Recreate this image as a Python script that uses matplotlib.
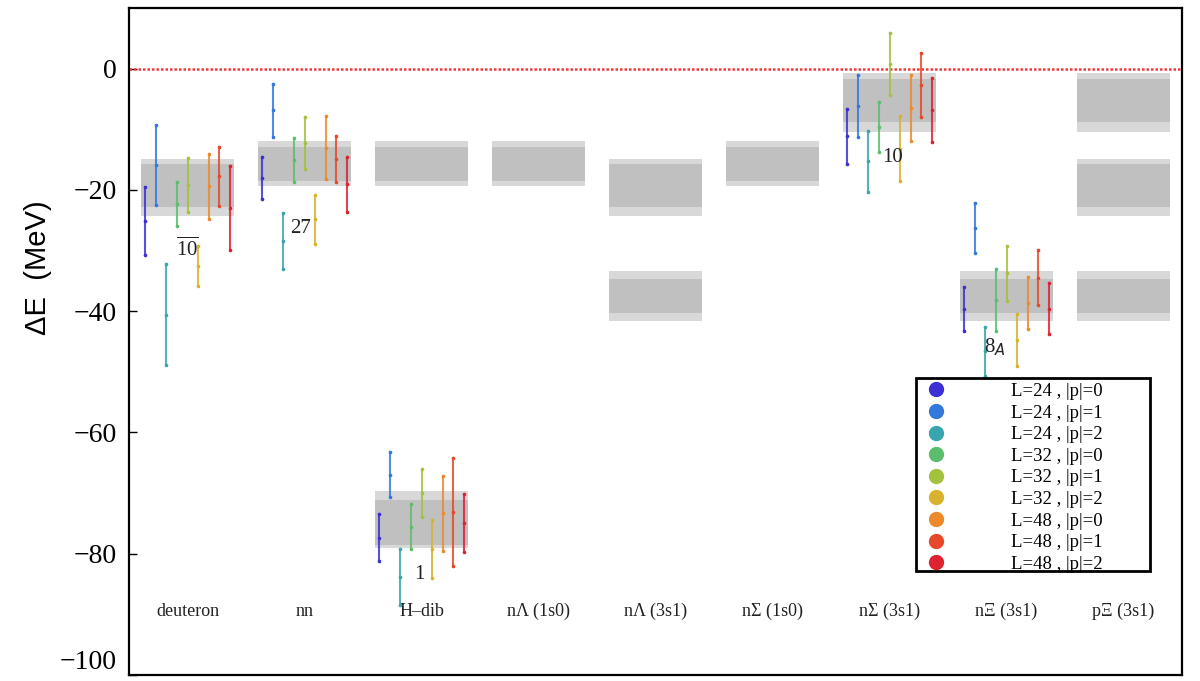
"""Binding energies of two-baryon channels with lattice error bars and bands."""

import matplotlib

matplotlib.use("Agg")
import matplotlib.pyplot as plt
import numpy as np
from matplotlib.lines import Line2D
from matplotlib.patches import Rectangle
from matplotlib.ticker import FuncFormatter

FIGURE_DPI = 100
SERIF = ["Liberation Serif", "DejaVu Serif"]

CHANNELS = [
    "deuteron", "nn", "H\u2013dib", "n\u039b (1s0)", "n\u039b (3s1)",
    "n\u03a3 (1s0)", "n\u03a3 (3s1)", "n\u039e (3s1)", "p\u039e (3s1)",
]
ENSEMBLES = [
    "L=24 , |p|=0", "L=24 , |p|=1", "L=24 , |p|=2",
    "L=32 , |p|=0", "L=32 , |p|=1", "L=32 , |p|=2",
    "L=48 , |p|=0", "L=48 , |p|=1", "L=48 , |p|=2",
]
ENSEMBLE_COLORS = [
    "#3b30d4", "#3378dc", "#3aa5ae", "#5cbd6c", "#a3c23e",
    "#d8b22c", "#ee8a2c", "#e8482a", "#dd2230",
]

# Bands: (outer low, outer high, inner low, inner high)
BAND_A = (-10.5, -0.7, -8.9, -1.8)
BAND_B = (-19.3, -12.0, -18.5, -13.0)
BAND_C = (-24.3, -15.0, -22.8, -15.8)
BAND_D = (-41.6, -33.4, -40.4, -34.7)
BAND_E = (-79.0, -69.7, -78.5, -71.1)
CHANNEL_BANDS = [
    [BAND_C], [BAND_B], [BAND_B, BAND_E], [BAND_B], [BAND_C, BAND_D],
    [BAND_B], [BAND_A], [BAND_D], [BAND_A, BAND_C, BAND_D],
]

# Lattice results per channel: lower and upper ends of each ensemble's error bar
DEUTERON_LOW = [-30.8, -22.5, -48.9, -25.9, -23.6, -35.9, -24.8, -22.6, -30.0]
DEUTERON_HIGH = [-19.5, -9.3, -32.3, -18.7, -14.8, -29.2, -14.1, -13.0, -16.1]
NN_LOW = [-21.5, -11.3, -33.0, -18.7, -16.6, -28.9, -18.2, -18.7, -23.6]
NN_HIGH = [-14.6, -2.5, -23.9, -11.5, -8.0, -20.8, -7.9, -11.1, -14.6]
HDIB_LOW = [-81.3, -70.7, -88.5, -79.3, -73.9, -84.1, -79.5, -82.1, -79.8]
HDIB_HIGH = [-73.4, -63.3, -79.3, -71.8, -66.1, -74.4, -67.2, -64.3, -70.2]
NSIGMA3_LOW = [-15.7, -11.3, -20.3, -13.8, -4.3, -18.5, -12.0, -8.0, -12.1]
NSIGMA3_HIGH = [-6.7, -1.1, -10.3, -5.6, 5.9, -7.9, -1.1, 2.5, -1.6]
NXI3_LOW = [-43.3, -30.5, -50.7, -43.3, -38.4, -49.0, -42.9, -39.0, -43.8]
NXI3_HIGH = [-36.1, -22.1, -42.6, -33.1, -29.2, -40.5, -34.3, -30.0, -35.4]

LATTICE_POINTS = {
    1: (DEUTERON_LOW, DEUTERON_HIGH),
    2: (NN_LOW, NN_HIGH),
    3: (HDIB_LOW, HDIB_HIGH),
    7: (NSIGMA3_LOW, NSIGMA3_HIGH),
    8: (NXI3_LOW, NXI3_HIGH),
}

# SU(3) irrep tags next to each group
IRREP_LABELS = [r"$\overline{\mathregular{10}}$", "27", "1", "10", r"8$_{A}$"]
IRREP_X = [1.0, 1.97, 2.98, 7.03, 7.90]
IRREP_Y = [-29.8, -26.3, -83.5, -14.6, -46.0]

BAND_HALF_WIDTH = 0.4
BAR_SPACING = 0.09

figure = plt.figure(figsize=(12.0, 6.81), dpi=FIGURE_DPI)
axis = figure.add_axes([0.1075, 0.009, 0.8775, 0.9794])

positions = np.arange(1, len(CHANNELS) + 1)
for position, bands in zip(positions, CHANNEL_BANDS):
    for outer_low, outer_high, inner_low, inner_high in bands:
        left = position - BAND_HALF_WIDTH
        right = position + BAND_HALF_WIDTH
        axis.fill_between([left, right], outer_low, outer_high,
                          color="#d8d8d8", lw=0, zorder=1)
        axis.fill_between([left, right], inner_low, inner_high,
                          color="#c0c0c0", lw=0, zorder=1.1)

axis.axhline(0.0, color="#f03a3a", lw=1.8, ls=(0, (1.0, 0.8)), zorder=2)

for position, (lows, highs) in LATTICE_POINTS.items():
    offsets = (np.arange(len(ENSEMBLES)) - (len(ENSEMBLES) - 1) / 2) * BAR_SPACING
    for offset, low, high, color in zip(offsets, lows, highs, ENSEMBLE_COLORS):
        x = position + offset
        middle = 0.5 * (low + high)
        axis.plot([x, x], [low, high], color=color, lw=1.5, alpha=0.85, zorder=3)
        axis.plot([x, x, x], [low, middle, high], ls="none", marker="o",
                  ms=1.6, color=color, zorder=3.1)

for label, x, y in zip(IRREP_LABELS, IRREP_X, IRREP_Y):
    axis.text(x, y, label, ha="center", va="center", fontsize=15,
              family=SERIF, color="#222222", zorder=4)

for position, channel in zip(positions, CHANNELS):
    axis.text(position, -89.5, channel, ha="center", va="center",
              fontsize=13, family=SERIF, color="#222222")

axis.set_xlim(0.5, 9.5)
axis.set_ylim(-100, 10)
axis.set_xticks([])
axis.set_yticks(np.arange(-100, 1, 20))
axis.tick_params(axis="y", direction="in", length=6, width=1.0, labelsize=20, pad=9)
axis.yaxis.set_major_formatter(
    FuncFormatter(lambda value, _: f"{value:.0f}".replace("-", "\u2212"))
)
for tick_label in axis.get_yticklabels():
    tick_label.set_family(SERIF)
axis.get_yticklabels()[0].set_verticalalignment("bottom")
axis.set_ylabel("\u0394E  (MeV)", fontsize=21, family=["Liberation Sans", "DejaVu Sans"])
axis.yaxis.set_label_coords(-0.073, 0.61)
for spine in axis.spines.values():
    spine.set_linewidth(1.6)

# Legend frame drawn separately so its padding can be set on each side
axis.add_patch(Rectangle((0.747, 0.156), 0.223, 0.289, transform=axis.transAxes,
                         fill=False, edgecolor="black", lw=2.0, zorder=5))
axis.add_patch(Rectangle((0.747, 0.156), 0.223, 0.289, transform=axis.transAxes,
                         facecolor="white", edgecolor="none", zorder=0.5))
handles = [
    Line2D([], [], ls="none", marker="o", ms=10, color=color)
    for color in ENSEMBLE_COLORS
]
legend = axis.legend(
    handles, ENSEMBLES, loc="upper left", bbox_to_anchor=(0.749, 0.452),
    prop={"family": SERIF, "size": 13.5}, handlelength=1.0, handletextpad=3.5,
    labelspacing=0.24, borderpad=0.0, frameon=False,
)
legend.set_zorder(6)

figure.savefig("out.png", dpi=FIGURE_DPI)
plt.close(figure)
